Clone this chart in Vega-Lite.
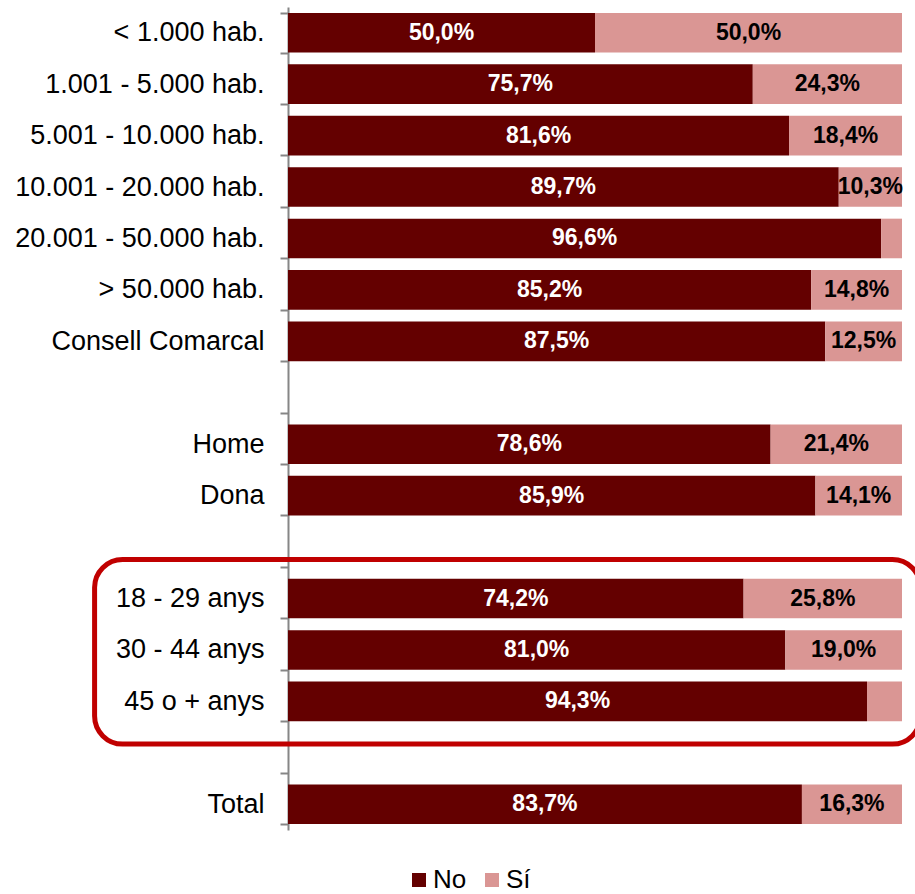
{
  "$schema": "https://vega.github.io/schema/vega-lite/v6.json",
  "width": 614,
  "height": 823,
  "autosize": "none",
  "padding": {"left": 288, "top": 7, "right": 13, "bottom": 64},
  "background": "white",
  "config": {
    "view": {"stroke": null},
    "font": "Liberation Sans"
  },
  "datasets": {
    "main": [
      {"cat": "< 1.000 hab.", "s": "No", "o": 1, "v": 50.0},
      {"cat": "< 1.000 hab.", "s": "Sí", "o": 2, "v": 50.0},
      {"cat": "1.001 - 5.000 hab.", "s": "No", "o": 1, "v": 75.7},
      {"cat": "1.001 - 5.000 hab.", "s": "Sí", "o": 2, "v": 24.3},
      {"cat": "5.001 - 10.000 hab.", "s": "No", "o": 1, "v": 81.6},
      {"cat": "5.001 - 10.000 hab.", "s": "Sí", "o": 2, "v": 18.4},
      {"cat": "10.001 - 20.000 hab.", "s": "No", "o": 1, "v": 89.7},
      {"cat": "10.001 - 20.000 hab.", "s": "Sí", "o": 2, "v": 10.3},
      {"cat": "20.001 - 50.000 hab.", "s": "No", "o": 1, "v": 96.6},
      {"cat": "20.001 - 50.000 hab.", "s": "Sí", "o": 2, "v": 3.4},
      {"cat": "> 50.000 hab.", "s": "No", "o": 1, "v": 85.2},
      {"cat": "> 50.000 hab.", "s": "Sí", "o": 2, "v": 14.8},
      {"cat": "Consell Comarcal", "s": "No", "o": 1, "v": 87.5},
      {"cat": "Consell Comarcal", "s": "Sí", "o": 2, "v": 12.5},
      {"cat": "Home", "s": "No", "o": 1, "v": 78.6},
      {"cat": "Home", "s": "Sí", "o": 2, "v": 21.4},
      {"cat": "Dona", "s": "No", "o": 1, "v": 85.9},
      {"cat": "Dona", "s": "Sí", "o": 2, "v": 14.1},
      {"cat": "18 - 29 anys", "s": "No", "o": 1, "v": 74.2},
      {"cat": "18 - 29 anys", "s": "Sí", "o": 2, "v": 25.8},
      {"cat": "30 - 44 anys", "s": "No", "o": 1, "v": 81.0},
      {"cat": "30 - 44 anys", "s": "Sí", "o": 2, "v": 19.0},
      {"cat": "45 o + anys", "s": "No", "o": 1, "v": 94.3},
      {"cat": "45 o + anys", "s": "Sí", "o": 2, "v": 5.7},
      {"cat": "Total", "s": "No", "o": 1, "v": 83.7},
      {"cat": "Total", "s": "Sí", "o": 2, "v": 16.3}
    ],
    "box": [
      {"x": -31.5, "x2": 103, "y": 10.74, "y2": 14.33}
    ]
  },
  "layer": [
    {
      "data": {"name": "main"},
      "encoding": {
        "y": {
          "field": "cat", "type": "nominal",
          "scale": {
            "domain": ["< 1.000 hab.", "1.001 - 5.000 hab.", "5.001 - 10.000 hab.", "10.001 - 20.000 hab.", "20.001 - 50.000 hab.", "> 50.000 hab.", "Consell Comarcal", " ", "Home", "Dona", "  ", "18 - 29 anys", "30 - 44 anys", "45 o + anys", "   ", "Total"],
            "paddingInner": 0.23, "paddingOuter": 0.115
          },
          "axis": {
            "title": null,
            "tickBand": "extent",
            "domainColor": "#868686", "domainWidth": 2,
            "tickColor": "#868686", "tickWidth": 2, "tickSize": 8,
            "labelFontSize": 27, "labelColor": "#000000", "labelPadding": 16,
            "labelFont": "Liberation Sans", "labelLimit": 400
          }
        }
      },
      "layer": [
        {
          "mark": {"type": "bar"},
          "encoding": {
            "x": {
              "field": "v", "type": "quantitative", "stack": "zero",
              "scale": {"domain": [0, 100], "nice": false},
              "axis": null
            },
            "order": {"field": "o", "type": "quantitative"},
            "color": {
              "field": "s", "type": "nominal",
              "scale": {"domain": ["No", "Sí"], "range": ["#640000", "#DA9694"]},
              "legend": {
                "title": null, "orient": "none", "direction": "horizontal",
                "legendX": 118, "legendY": 860,
                "symbolType": "square", "symbolSize": 196, "symbolStrokeWidth": 0,
                "labelFontSize": 26, "labelFont": "Liberation Sans", "labelColor": "#000000",
                "columnPadding": 12, "labelOffset": 1
              }
            }
          }
        },
        {
          "transform": [
            {"stack": "v", "groupby": ["cat"], "sort": [{"field": "o"}], "as": ["v0", "v1"]},
            {"calculate": "(datum.v0 + datum.v1) / 2", "as": "vm"},
            {"calculate": "replace(format(datum.v, '.1f'), '.', ',') + '%'", "as": "lbl"},
            {"filter": "datum.v >= 8"}
          ],
          "mark": {"type": "text", "fontSize": 23, "fontWeight": "bold", "font": "Liberation Sans", "baseline": "middle", "align": "center"},
          "encoding": {
            "x": {"field": "vm", "type": "quantitative"},
            "text": {"field": "lbl"},
            "color": {"condition": {"test": "datum.s == 'No'", "value": "#FFFFFF"}, "value": "#000000"}
          }
        }
      ]
    },
    {
      "data": {"name": "box"},
      "mark": {"type": "rect", "filled": false, "stroke": "#C00000", "strokeWidth": 5, "cornerRadius": 28, "clip": false},
      "encoding": {
        "x": {"field": "x", "type": "quantitative"},
        "x2": {"field": "x2"},
        "y": {"field": "y", "type": "quantitative", "scale": {"domain": [0, 16], "nice": false, "reverse": true, "zero": false}, "axis": null},
        "y2": {"field": "y2"}
      }
    }
  ],
  "resolve": {"scale": {"y": "independent"}, "axis": {"y": "independent"}}
}
